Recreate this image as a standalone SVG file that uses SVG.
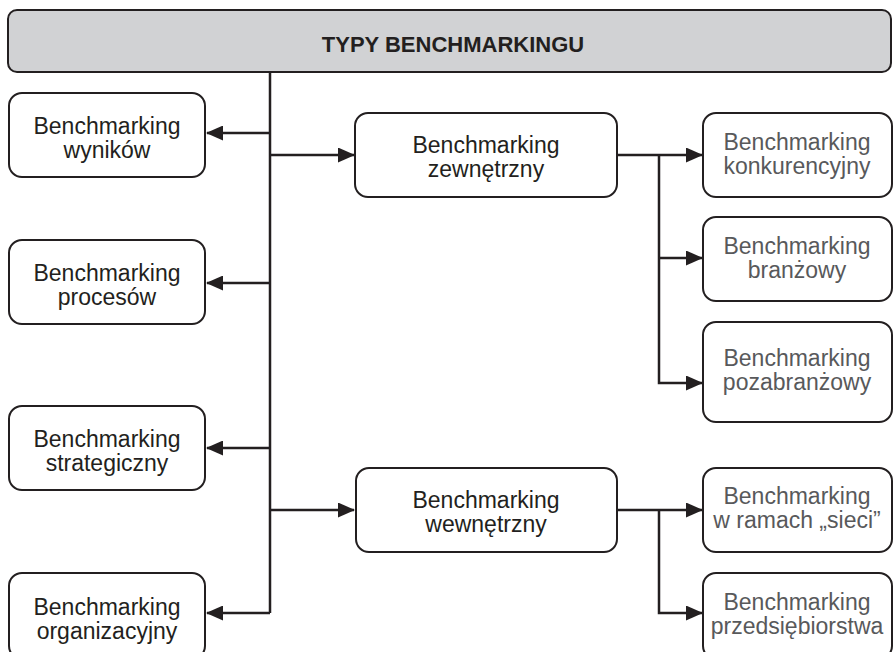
<svg xmlns="http://www.w3.org/2000/svg" width="893" height="652" viewBox="0 0 893 652">
<style>
.box{fill:#fff;stroke:#231f20;stroke-width:2}
.t{font-family:"Liberation Sans",Arial,sans-serif;font-size:23px;fill:#231f20;text-anchor:middle}
.g{fill:#58595b}
.c{fill:none;stroke:#231f20;stroke-width:2.5}
</style>
<defs>
<marker id="ah" markerUnits="userSpaceOnUse" viewBox="0 0 17 15" markerWidth="17" markerHeight="15" refX="16" refY="7.5" orient="auto">
<path d="M0,0 L17,7.5 L0,15 Z" fill="#231f20"/>
</marker>
</defs>
<g id="title">
<rect x="8" y="10" width="883" height="62" rx="9" fill="#d1d2d4" stroke="#231f20" stroke-width="2"/>
<text x="453" y="52" class="t" style="font-weight:bold;font-size:22px">TYPY BENCHMARKINGU</text>
</g>
<g id="connectors">
<path class="c" d="M270,72 V613"/>
<path class="c" d="M270,133 H207" marker-end="url(#ah)"/>
<path class="c" d="M270,283 H207" marker-end="url(#ah)"/>
<path class="c" d="M270,448 H207" marker-end="url(#ah)"/>
<path class="c" d="M270,613 H207" marker-end="url(#ah)"/>
<path class="c" d="M270,155 H354" marker-end="url(#ah)"/>
<path class="c" d="M270,510 H354" marker-end="url(#ah)"/>
<path class="c" d="M617,155 H702" marker-end="url(#ah)"/>
<path class="c" d="M659,155 V383 H702" marker-end="url(#ah)"/>
<path class="c" d="M659,258 H702" marker-end="url(#ah)"/>
<path class="c" d="M617,510 H702" marker-end="url(#ah)"/>
<path class="c" d="M659,510 V613 H702" marker-end="url(#ah)"/>
</g>
<g id="wynikow"><rect class="box" x="9" y="93" width="196" height="84" rx="13"/><text class="t" x="107" y="134">Benchmarking</text><text class="t" x="107" y="158">wyników</text></g>
<g id="procesow"><rect class="box" x="9" y="240" width="196" height="84" rx="13"/><text class="t" x="107" y="281">Benchmarking</text><text class="t" x="107" y="305">procesów</text></g>
<g id="strategiczny"><rect class="box" x="9" y="406" width="196" height="84" rx="13"/><text class="t" x="107" y="447">Benchmarking</text><text class="t" x="107" y="471">strategiczny</text></g>
<g id="organizacyjny"><rect class="box" x="9" y="573" width="196" height="86" rx="13"/><text class="t" x="107" y="615">Benchmarking</text><text class="t" x="107" y="639">organizacyjny</text></g>
<g id="zewnetrzny"><rect class="box" x="355" y="113" width="262" height="84" rx="13"/><text class="t" x="486" y="153">Benchmarking</text><text class="t" x="486" y="177">zewnętrzny</text></g>
<g id="wewnetrzny"><rect class="box" x="356" y="468" width="261" height="84" rx="13"/><text class="t" x="486" y="508">Benchmarking</text><text class="t" x="486" y="532">wewnętrzny</text></g>
<g id="konkurencyjny"><rect class="box" x="703" y="113" width="189" height="84" rx="13"/><text class="t g" x="797" y="150">Benchmarking</text><text class="t g" x="797" y="174">konkurencyjny</text></g>
<g id="branzowy"><rect class="box" x="703" y="217" width="189" height="84" rx="13"/><text class="t g" x="797" y="254">Benchmarking</text><text class="t g" x="797" y="278">branżowy</text></g>
<g id="pozabranzowy"><rect class="box" x="703" y="322" width="189" height="100" rx="13"/><text class="t g" x="797" y="366">Benchmarking</text><text class="t g" x="797" y="390">pozabranżowy</text></g>
<g id="sieci"><rect class="box" x="703" y="468" width="189" height="84" rx="13"/><text class="t g" x="797" y="504">Benchmarking</text><text class="t g" x="797" y="528">w ramach „sieci”</text></g>
<g id="przedsiebiorstwa"><rect class="box" x="703" y="573" width="189" height="86" rx="13"/><text class="t g" x="797" y="610">Benchmarking</text><text class="t g" x="797" y="634">przedsiębiorstwa</text></g>
</svg>
